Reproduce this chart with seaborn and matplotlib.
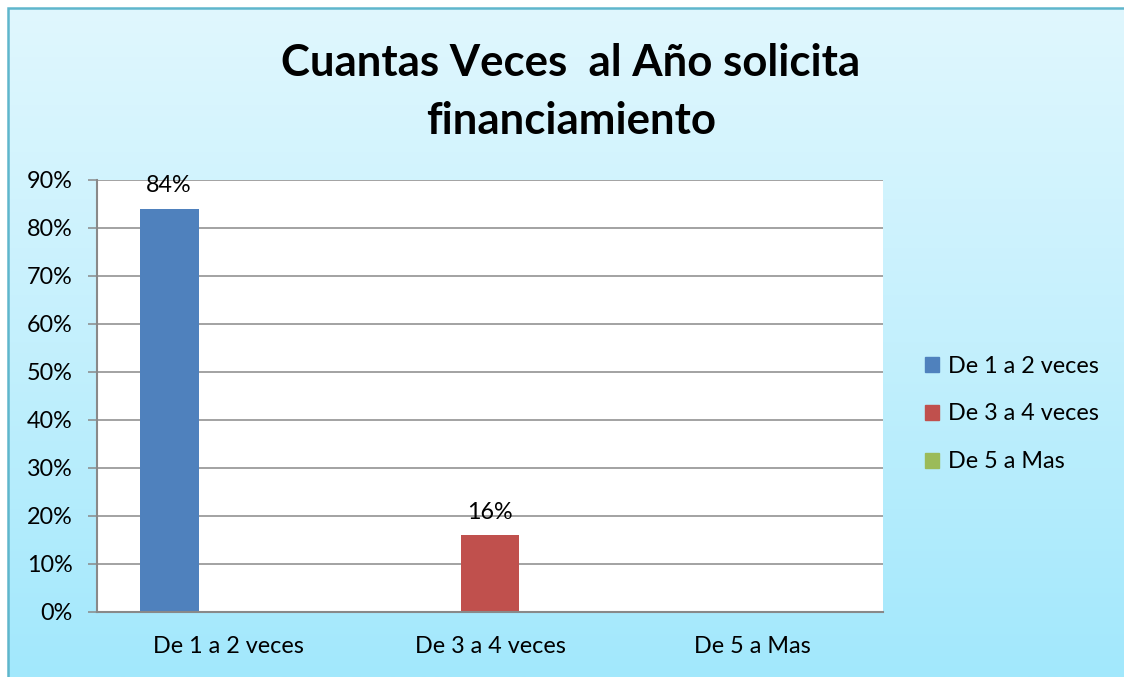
import matplotlib
matplotlib.use("Agg")
import matplotlib.pyplot as plt
import seaborn as sns
import numpy as np
import pandas as pd
from matplotlib.colors import LinearSegmentedColormap
from matplotlib.patches import Rectangle

# data
categorias = ["De 1 a 2 veces", "De 3 a 4 veces", "De 5 a Mas"]
series = ["De 1 a 2 veces", "De 3 a 4 veces", "De 5 a Mas"]
serie_1a2 = [84, 0, 0]
serie_3a4 = [0, 16, 0]
serie_5mas = [0, 0, 0]
colores = ["#4f81bd", "#c0504d", "#9bbb59"]
yticks = [0, 10, 20, 30, 40, 50, 60, 70, 80, 90]
titulo = "Cuantas Veces  al Año solicita\nfinanciamiento"

df = pd.DataFrame({
    "categoria": categorias * 3,
    "serie": [s for s in series for _ in categorias],
    "valor": serie_1a2 + serie_3a4 + serie_5mas,
})

sns.set_theme(style="white")
plt.rcParams["font.family"] = ["Lato", "DejaVu Sans"]
plt.rcParams["text.color"] = "black"

FS = 16.8
W, H = 1124, 677
fig = plt.figure(figsize=(W / 100, H / 100), dpi=100)
fig.patch.set_facecolor("white")

# gradient background with border
bg = fig.add_axes([8 / W, 0, 1 - 8 / W, 1 - 8 / H], zorder=-10)
cmap = LinearSegmentedColormap.from_list("bg", ["#a2e8fc", "#c4f0fd", "#e0f7fe"])
grad = np.linspace(0, 1, 256).reshape(-1, 1)
bg.imshow(grad, aspect="auto", cmap=cmap, origin="lower", extent=[0, 1, 0, 1])
bg.set_xlim(0, 1)
bg.set_ylim(0, 1)
bg.axis("off")
bg.add_patch(Rectangle((0, -0.01), 1.01, 1.01, fill=False, edgecolor="#5fb6cc",
                       lw=1.8, transform=bg.transAxes, clip_on=False))

ax = fig.add_axes([97 / W, 1 - 612 / H, (883 - 97) / W, (612 - 180) / H])
ax.set_facecolor("white")
sns.barplot(data=df, x="categoria", y="valor", hue="serie", palette=colores,
            width=0.675, saturation=1, ax=ax, legend=False, linewidth=0)

ax.set_ylim(0, 90)
ax.set_yticks(yticks)
ax.set_yticklabels([f"{v}%" for v in yticks])
ax.grid(axis="y", color="#898989", lw=1.1)
ax.set_axisbelow(True)
for s in ["top", "right"]:
    ax.spines[s].set_visible(False)
for s in ["left", "bottom"]:
    ax.spines[s].set_color("#898989")
    ax.spines[s].set_linewidth(1.5)
ax.tick_params(axis="y", length=6.5, width=1.1, color="#898989", pad=11,
               labelsize=FS, labelcolor="black", left=True)
ax.tick_params(axis="x", length=0, pad=17, labelsize=FS, labelcolor="black")
ax.set_xlabel("")
ax.set_ylabel("")

for cont in ax.containers:
    labels = [f"{v:.0f}%" if v > 0 else "" for v in cont.datavalues]
    ax.bar_label(cont, labels=labels, padding=9, fontsize=FS, color="black")

handles = [Rectangle((0, 0), 1, 1, color=c) for c in colores]
fig.legend(handles, series, loc="center left", bbox_to_anchor=(904 / W, 1 - 414 / H),
           frameon=False, fontsize=FS, handlelength=0.6, handleheight=0.6,
           handletextpad=0.4, labelspacing=1.15)

fig.text(571 / W, 1 - 92 / H, titulo, ha="center", va="center", fontsize=31.5,
         fontweight="bold", color="black", linespacing=1.55)

fig.savefig("out.png", dpi=100)
